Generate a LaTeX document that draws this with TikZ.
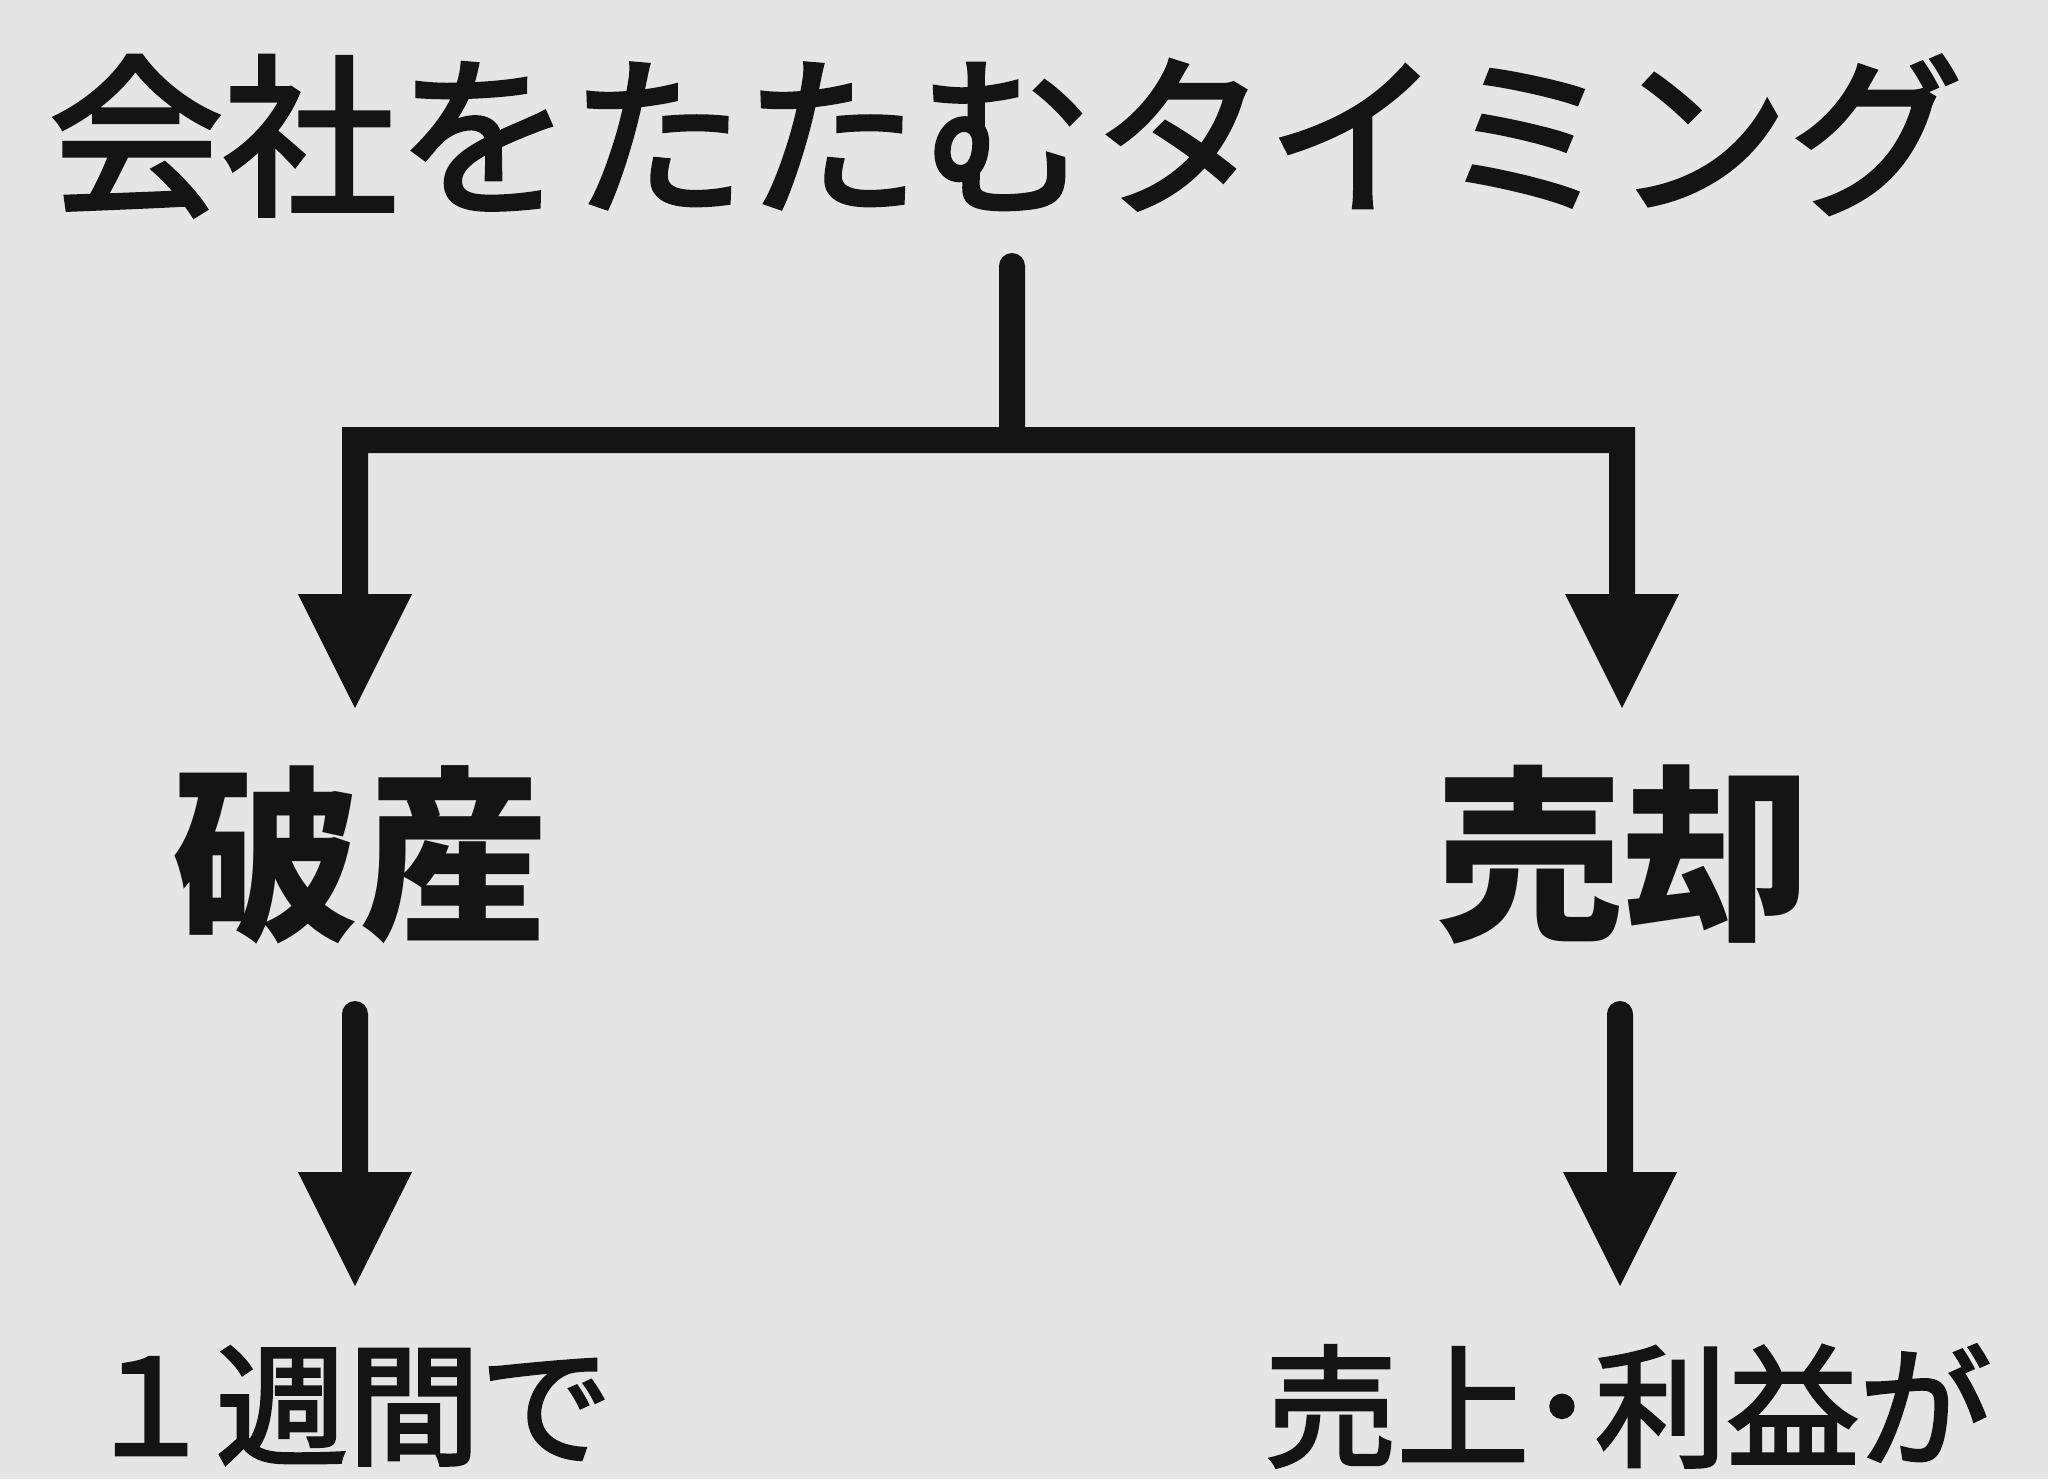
\documentclass[tikz,border=0pt]{standalone}
\usepackage{fontspec}
\newfontfamily\jp{Noto Sans CJK JP}
\newfontfamily\jpmed[FakeBold=2.5]{Noto Sans CJK JP}
\usetikzlibrary{calc}
\definecolor{bg}{RGB}{229,229,229}
\definecolor{ink}{RGB}{20,20,20}
\begin{document}
\begin{tikzpicture}[x=0.5pt,y=-0.5pt,
  conn/.style={fill=ink},
  titletext/.style={inner sep=0pt,text=ink,font=\jpmed\fontsize{87pt}{90pt}\selectfont},
  bigtext/.style={inner sep=0pt,text=ink,font=\jp\bfseries\fontsize{94pt}{98pt}\selectfont},
  smalltext/.style={inner sep=0pt,text=ink,font=\jpmed\fontsize{66pt}{70pt}\selectfont}]
\fill[bg] (0,0) rectangle (2048,1479);
\useasboundingbox (0,0) rectangle (2048,1479);

\node[titletext] (title) at (1006,136) {会社をたたむタイミング};
\node[bigtext] (hasan) at (360,855) {破産};
\node[bigtext] (baikyaku) at (1623,855) {売却};
\node[smalltext] (week) at (348,1406) {１週間で};
\node[smalltext] (sales) at (1628,1406) {売上･利益が};

\coordinate (stemtop) at (1012,266);
\coordinate (junction) at (1012,440);
\coordinate (lcorner) at (355,440);
\coordinate (rcorner) at (1622,440);
\coordinate (ltip) at (355,708);
\coordinate (rtip) at (1622,708);
\coordinate (lstart) at (355,1014);
\coordinate (lend) at (355,1286);
\coordinate (rstart) at (1620,1014);
\coordinate (rend) at (1620,1286);

% branching connector: stem, bar, two legs with heads, as one outline
\fill[conn] ($(stemtop)+(-13,0)$) -- ($(stemtop)+(13,0)$) -- ($(junction)+(13,-13)$)
  -- ($(rcorner)+(13,-13)$) -- ($(rtip)+(13,-114)$) -- ($(rtip)+(57,-114)$) -- (rtip)
  -- ($(rtip)+(-57,-114)$) -- ($(rtip)+(-13,-114)$) -- ($(rcorner)+(-13,13)$)
  -- ($(lcorner)+(13,13)$) -- ($(ltip)+(13,-114)$) -- ($(ltip)+(57,-114)$) -- (ltip)
  -- ($(ltip)+(-57,-114)$) -- ($(ltip)+(-13,-114)$) -- ($(lcorner)+(-13,-13)$)
  -- ($(junction)+(-13,-13)$) -- cycle;
\fill[conn] (stemtop) circle[radius=13];
% lower arrows
\foreach \s/\t in {lstart/lend, rstart/rend}{
  \fill[conn] ($(\s)+(-13,0)$) -- ($(\s)+(13,0)$) -- ($(\t)+(13,-114)$) -- ($(\t)+(57,-114)$)
    -- (\t) -- ($(\t)+(-57,-114)$) -- ($(\t)+(-13,-114)$) -- cycle;
  \fill[conn] (\s) circle[radius=13];
}
\end{tikzpicture}
\end{document}
